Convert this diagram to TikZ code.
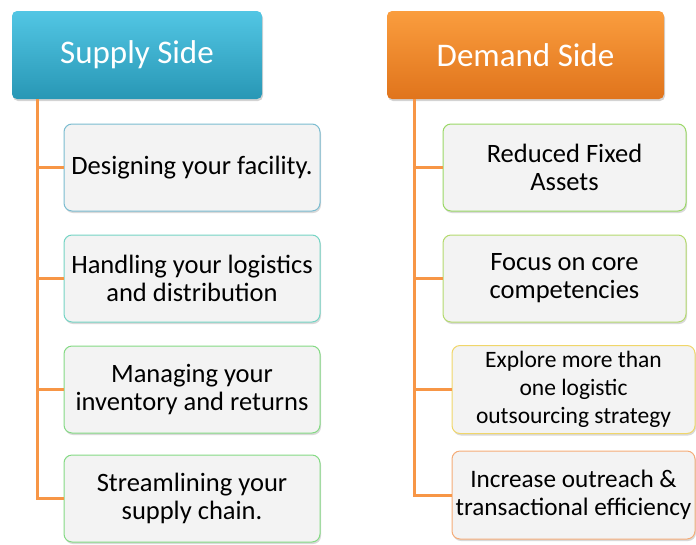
\documentclass[tikz,border=0pt]{standalone}
\usepackage{fontspec}
\setmainfont{Carlito}
\usetikzlibrary{shadows}
\definecolor{supplytop}{HTML}{52C6E4}
\definecolor{supplybot}{HTML}{2897B5}
\definecolor{demandtop}{HTML}{FA9D3E}
\definecolor{demandbot}{HTML}{E0741C}
\definecolor{linkcol}{HTML}{F79646}
\definecolor{boxfill}{HTML}{F3F3F3}
\definecolor{edgeblue}{HTML}{7BBCD0}
\definecolor{edgeteal}{HTML}{74D4C4}
\definecolor{edgegreen}{HTML}{84DA84}
\definecolor{edgelime}{HTML}{9AD866}
\definecolor{edgeyellowgreen}{HTML}{B4DA6E}
\definecolor{edgeyellow}{HTML}{F0D66A}
\definecolor{edgeorange}{HTML}{F5AC78}
\begin{document}
\begin{tikzpicture}[x=1pt,y=-1pt,
    head/.style = {rounded corners=5pt, minimum height=88pt, text=white,
                   font=\fontsize{33}{38}\selectfont,
                   drop shadow={shadow xshift=1pt,shadow yshift=-2pt,opacity=0.35}},
    item/.style = {rounded corners=8pt, fill=boxfill, line width=1pt,
                   minimum height=87pt, align=center, inner sep=1pt,
                   font=\fontsize{26.5}{28}\selectfont,
                   drop shadow={shadow xshift=1pt,shadow yshift=-2pt,opacity=0.3}},
    link/.style = {linkcol, line width=3pt}]
    \useasboundingbox (0,0) rectangle (696,544);

    \node [head, minimum width=250pt, top color=supplytop, bottom color=supplybot]
        (supply) at (137,55) {\raisebox{-2pt}{Supply Side}};
    \node [head, minimum width=277pt, top color=demandtop, bottom color=demandbot]
        (demand) at (525.5,55) {\raisebox{-2pt}{Demand Side}};

    % supply side
    \node [item, draw=edgeblue, minimum width=256pt] (s1) at (192,167.5) {Designing your facility.};
    \node [item, draw=edgeteal, minimum width=256pt] (s2) at (192,278.5) {Handling your logistics\\and distribution};
    \node [item, draw=edgegreen, minimum width=256pt] (s3) at (192,389.5) {Managing your\\inventory and returns};
    \node [item, draw=edgegreen, minimum width=256pt] (s4) at (192,498.5) {Streamlining your\\supply chain.};

    % demand side
    \node [item, draw=edgelime, minimum width=243pt] (d1) at (564.5,167.5) {Reduced Fixed\\Assets};
    \node [item, draw=edgeyellowgreen, minimum width=243pt] (d2) at (564.5,278.5) {Focus on core\\competencies};
    \node [item, draw=edgeyellow, minimum width=243pt, minimum height=88pt,
           font=\fontsize{23.5}{28}\selectfont] (d3) at (573.5,389.5) {Explore more than\\one logistic\\outsourcing strategy};
    \node [item, draw=edgeorange, minimum width=243pt, minimum height=88pt,
           font=\fontsize{25.2}{28}\selectfont] (d4) at (573.5,495) {Increase outreach \&\\transactional efficiency};

    \foreach \n in {s1,s2,s3,s4}
        \draw[link] ([xshift=26pt]supply.south west) |- (\n.west);
    \foreach \n in {d1,d2,d3,d4}
        \draw[link] ([xshift=28pt]demand.south west) |- (\n.west);
\end{tikzpicture}
\end{document}
